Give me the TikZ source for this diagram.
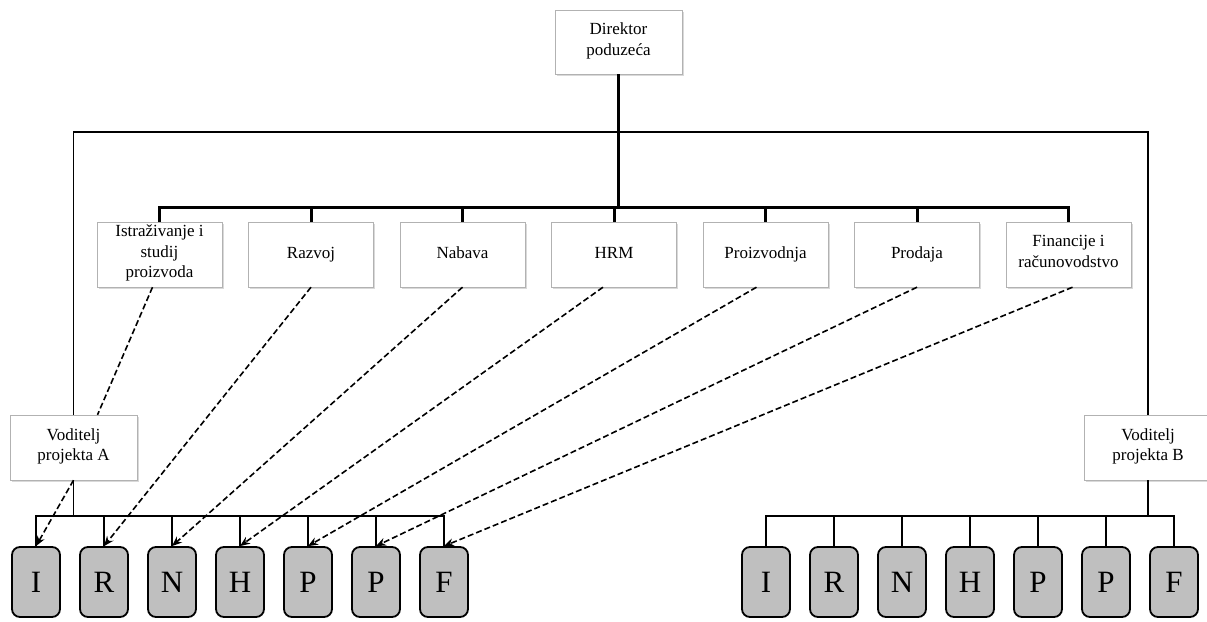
\documentclass[tikz,border=0pt]{standalone}
\usepackage{fontspec}
\setmainfont{Liberation Serif}
\usetikzlibrary{positioning,shadows,arrows.meta}

\begin{document}
\begin{tikzpicture}[x=1pt, y=-1pt, node distance={151.5pt},
  box/.style = {draw=gray!60, fill=white, minimum width=125pt, minimum height=65pt, inner sep=1pt, align=center, font=\fontsize{17}{20.5}\selectfont, execute at begin node=\strut, execute at end node=\strut, drop shadow={shadow xshift=1.5pt, shadow yshift=-2pt, opacity=0.3}},
  unit/.style = {draw, line width=1.8pt, fill=gray!50, rounded corners=8pt, minimum width=48pt, minimum height=70pt, font=\fontsize{31}{31}\selectfont},
  link/.style = {line width=1.8pt},
  main/.style = {line width=3pt},
  taskline/.style = {dashed, line width=1.6pt, dash pattern=on 6pt off 3pt},
  task/.style = {taskline, -{Stealth[length=10pt,width=8pt]}}]
\useasboundingbox (0,0) rectangle (1207,621);

\node[box, minimum width=127pt, minimum height=64pt] (dir) at (618.5,42) {Direktor\\poduzeća};

\node[box] (istr) at (159.5,254.5) {Istraživanje i\\studij\\proizvoda};
\node[box] (razv) [right of=istr] {Razvoj};
\node[box] (nab) [right of=razv] {Nabava};
\node[box] (hrm) [right of=nab] {HRM};
\node[box] (proiz) [right of=hrm] {Proizvodnja};
\node[box] (prod) [right of=proiz] {Prodaja};
\node[box] (fin) [right of=prod] {Financije i\\računovodstvo};

\node[box, minimum width=127pt] (va) at (73.5,447.5) {Voditelj\\projekta A};
\node[box, minimum width=127pt] (vb) at (1148,447.5) {Voditelj\\projekta B};

\begin{scope}[node distance={68pt}]
\node[unit] (a1) at (36,582) {I};
\node[unit] (a2) [right of=a1] {R};
\node[unit] (a3) [right of=a2] {N};
\node[unit] (a4) [right of=a3] {H};
\node[unit] (a5) [right of=a4] {P};
\node[unit] (a6) [right of=a5] {P};
\node[unit] (a7) [right of=a6] {F};

\node[unit] (b1) at (766,582) {I};
\node[unit] (b2) [right of=b1] {R};
\node[unit] (b3) [right of=b2] {N};
\node[unit] (b4) [right of=b3] {H};
\node[unit] (b5) [right of=b4] {P};
\node[unit] (b6) [right of=b5] {P};
\node[unit] (b7) [right of=b6] {F};
\end{scope}

% line structure
\coordinate (top) at (618.5,132);
\coordinate (bar) at (618.5,207);
\coordinate (barA) at (73.5,516);
\coordinate (barB) at (1148,516);

\draw[main] (dir) -- (bar);
\draw[link] (va) |- (top) -| (vb);
\draw[main] (istr) |- (bar) -| (fin);
\draw[main] (razv) -- (razv |- bar);
\draw[main] (nab) -- (nab |- bar);
\draw[main] (hrm) -- (hrm |- bar);
\draw[main] (proiz) -- (proiz |- bar);
\draw[main] (prod) -- (prod |- bar);

\draw[link] (va) -- (barA);
\draw[link] (a1) |- (barA) -| (a7);
\draw[link] (a2) -- (a2 |- barA);
\draw[link] (a3) -- (a3 |- barA);
\draw[link] (a4) -- (a4 |- barA);
\draw[link] (a5) -- (a5 |- barA);
\draw[link] (a6) -- (a6 |- barA);

\draw[link] (vb) -- (barB);
\draw[link] (b1) |- (barB) -| (b7);
\draw[link] (b2) -- (b2 |- barB);
\draw[link] (b3) -- (b3 |- barB);
\draw[link] (b4) -- (b4 |- barB);
\draw[link] (b5) -- (b5 |- barB);
\draw[link] (b6) -- (b6 |- barB);

% project tasks
\draw[taskline] ([xshift=-7pt]istr.south) -- ([xshift=24pt]va.north);
\draw[task] (va.south) -- (a1.north);
\draw[task] (razv.south) -- (a2.north);
\draw[task] (nab.south) -- (a3.north);
\draw[task] ([xshift=-11pt]hrm.south) -- (a4.north);
\draw[task] ([xshift=-9pt]proiz.south) -- (a5.north);
\draw[task] (prod.south) -- (a6.north);
\draw[task] ([xshift=4pt]fin.south) -- (a7.north);

\end{tikzpicture}
\end{document}
